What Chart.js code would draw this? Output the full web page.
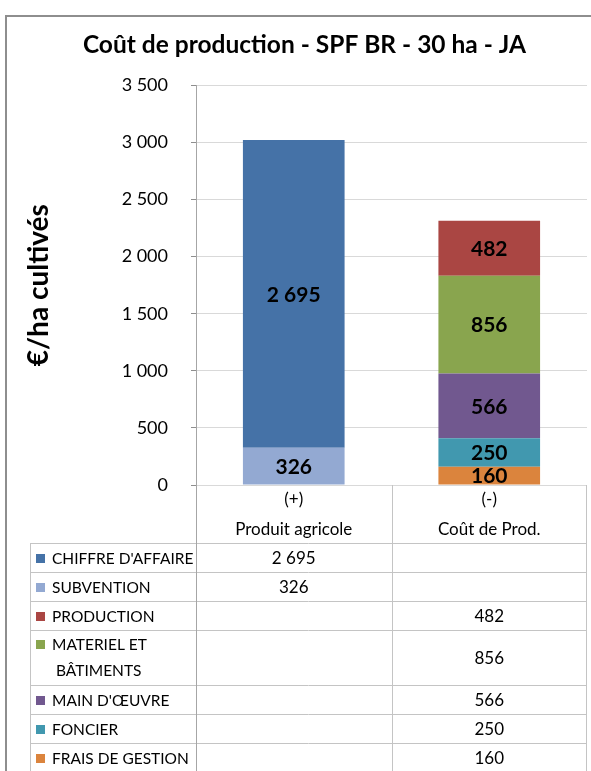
<!DOCTYPE html>
<html>
<head>
<meta charset="utf-8">
<script src="https://cdn.jsdelivr.net/npm/chart.js@4"></script>
<style>
  html, body { margin: 0; padding: 0; background: #fff; }
  canvas { display: block; }
</style>
</head>
<body>
<canvas id="coutChart" width="591" height="771"></canvas>
<script>
// categories (two-line axis labels) and series, in the order of the data table
const categories = [["(+)", "Produit agricole"], ["(-)", "Coût de Prod."]];
const seriesNames = ["CHIFFRE D'AFFAIRE", "SUBVENTION", "PRODUCTION", ["MATERIEL ET", "BÂTIMENTS"], "MAIN D'ŒUVRE", "FONCIER", "FRAIS DE GESTION"];
const chiffreAffaire = [2695, null];
const subvention = [326, null];
const production = [null, 482];
const materielBatiments = [null, 856];
const mainOeuvre = [null, 566];
const foncier = [null, 250];
const fraisGestion = [null, 160];
const seriesValues = [chiffreAffaire, subvention, production, materielBatiments, mainOeuvre, foncier, fraisGestion];
const seriesColors = ["#4572A7", "#93A9D2", "#AA4643", "#89A54E", "#71588F", "#4198AF", "#DB843D"];
const yTicks = [0, 500, 1000, 1500, 2000, 2500, 3000, 3500];

const FONT = "Lato, 'Open Sans', sans-serif";

function fmt(v) {
  return String(v).replace(/\B(?=(\d{3})+(?!\d))/g, " ");
}

// first table row sits on top of the stack, so feed the chart reversed
const datasets = seriesValues.map((vals, i) => ({
  label: Array.isArray(seriesNames[i]) ? seriesNames[i].join(" ") : seriesNames[i],
  data: vals,
  backgroundColor: seriesColors[i],
  barPercentage: 0.52,
  categoryPercentage: 1,
})).reverse();

const barLabels = {
  id: "barLabels",
  afterDatasetsDraw(chart) {
    const c = chart.ctx;
    c.save();
    c.font = "bold 21px " + FONT;
    c.fillStyle = "#000";
    c.textAlign = "center";
    c.textBaseline = "middle";
    chart.data.datasets.forEach((ds, di) => {
      const meta = chart.getDatasetMeta(di);
      meta.data.forEach((bar, i) => {
        const v = ds.data[i];
        if (v == null) return;
        c.fillText(fmt(v), bar.x, (bar.y + bar.base) / 2 + 1);
      });
    });
    c.restore();
  },
};

const frameAndTable = {
  id: "frameAndTable",
  beforeDraw(chart) {
    const c = chart.ctx;
    c.save();
    c.strokeStyle = "#8e8e8e";
    c.lineWidth = 2;
    c.strokeRect(6, 16, 700, 900);
    c.restore();
  },
  afterDraw(chart) {
    const c = chart.ctx;
    const a = chart.chartArea;
    const x = chart.scales.x;
    const mid = Math.round((x.getPixelForValue(0) + x.getPixelForValue(1)) / 2) + 0.5;
    const left = Math.round(a.left) + 0.5;
    const right = Math.round(a.right) - 0.5;
    const top = Math.round(a.bottom);
    const bodyTop = top + 58;
    const tableLeft = 30.5;
    const rowH = seriesNames.map(n => Array.isArray(n) ? 55 : 29);
    const bottom = bodyTop + rowH.reduce((s, h) => s + h, 0);

    c.save();
    c.strokeStyle = "#c4c4c4";
    c.lineWidth = 1;
    c.beginPath();
    c.moveTo(tableLeft, bodyTop + 0.5); c.lineTo(right, bodyTop + 0.5);
    let y = bodyTop;
    rowH.forEach(h => { y += h; c.moveTo(tableLeft, y + 0.5); c.lineTo(right, y + 0.5); });
    c.moveTo(tableLeft, bodyTop); c.lineTo(tableLeft, bottom);
    c.moveTo(mid, top); c.lineTo(mid, bottom);
    c.moveTo(right, top); c.lineTo(right, bottom);
    c.stroke();
    c.strokeStyle = "#a6a6a6";
    c.beginPath();
    c.moveTo(left, top); c.lineTo(left, bottom);
    c.stroke();

    c.fillStyle = "#000";
    c.textBaseline = "middle";
    y = bodyTop;
    seriesNames.forEach((name, i) => {
      const h = rowH[i];
      const lines = Array.isArray(name) ? name : [name];
      const firstY = lines.length > 1 ? y + 15 : y + h / 2 + 1;
      c.fillStyle = seriesColors[i];
      c.fillRect(36, Math.round(firstY - 5), 9, 9);
      c.fillStyle = "#000";
      c.textAlign = "left";
      c.font = "15.5px " + FONT;
      lines.forEach((ln, k) => c.fillText(ln, 52 + (k ? 4 : 0), firstY + k * 26));
      c.textAlign = "center";
      c.font = "17px " + FONT;
      seriesValues[i].forEach((v, ci) => {
        if (v == null) return;
        c.fillText(fmt(v), x.getPixelForValue(ci), y + h / 2 + 1);
      });
      y += h;
    });
    c.restore();
  },
};

new Chart(document.getElementById("coutChart"), {
  type: "bar",
  data: { labels: categories, datasets: datasets },
  plugins: [frameAndTable, barLabels],
  options: {
    responsive: false,
    animation: false,
    layout: { padding: { top: 15, left: 22, right: 4, bottom: 0 } },
    plugins: {
      legend: { display: false },
      tooltip: { enabled: false },
      title: {
        display: true,
        text: "Coût de production - SPF BR - 30 ha - JA",
        color: "#000",
        font: { family: FONT, size: 24.5, weight: "bold" },
        padding: { top: 15, bottom: 26 },
      },
    },
    scales: {
      x: {
        stacked: true,
        grid: { display: false },
        border: { display: false },
        ticks: {
          color: "#000",
          padding: -8,
          font: { family: FONT, size: 17, lineHeight: 1.75 },
        },
        afterFit: s => { s.height = 286; },
      },
      y: {
        stacked: true,
        min: 0,
        max: 3500,
        afterBuildTicks: s => { s.ticks = yTicks.map(v => ({ value: v })); },
        grid: { color: "#d9d9d9", tickColor: "#8e8e8e", tickLength: 5 },
        border: { color: "#a6a6a6" },
        ticks: {
          color: "#000",
          padding: 23,
          font: { family: FONT, size: 18 },
          callback: v => fmt(v),
        },
        title: {
          display: true,
          text: "€/ha cultivés",
          color: "#000",
          font: { family: FONT, size: 28, weight: "bold" },
          padding: { top: 0, bottom: 0 },
        },
        afterFit: s => { s.width = 196 - 22; },
      },
    },
  },
});
</script>
</body>
</html>
